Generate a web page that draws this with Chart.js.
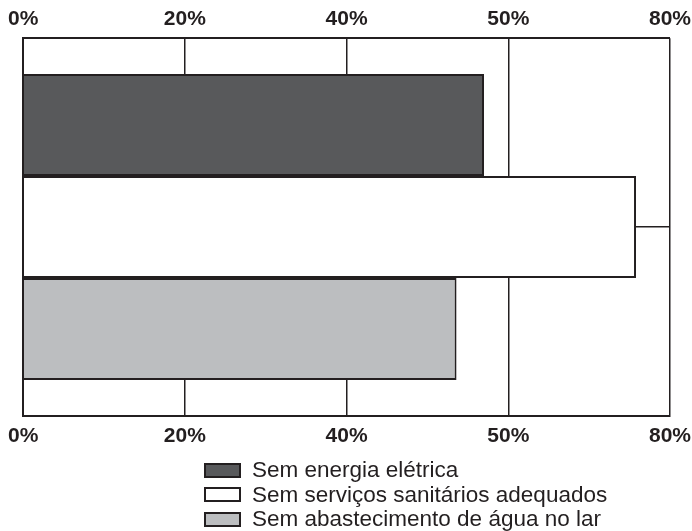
<!DOCTYPE html>
<html>
<head>
<meta charset="utf-8">
<script src="https://cdn.jsdelivr.net/npm/chart.js@4/dist/chart.umd.min.js"></script>
<style>
    body { margin: 0; background: #fff; overflow: hidden; }
    #wrap { position: relative; width: 692px; height: 531px; overflow: hidden; }
    #chart { position: absolute; left: 0; top: 0; }
    #legend { position: absolute; left: 204px; top: 458px; font-family: "Liberation Sans", Arial, sans-serif; font-size: 22.5px; color: #231f20; }
    .item { display: flex; align-items: center; height: 24.5px; }
    .box { width: 33px; height: 11px; border: 2px solid #231f20; margin-right: 11px; }
</style>
</head>
<body>
<div id="wrap">
    <canvas id="chart" width="699" height="459"></canvas>
    <div id="legend"></div>
</div>
<script>
// Série de dados
const categories = [""];
const seriesNames = ["Sem energia elétrica", "Sem serviços sanitários adequados", "Sem abastecimento de água no lar"];
const energia = [57];
const sanitarios = [75.8];
const agua = [53.6];
const xTickLabels = ["0%", "20%", "40%", "50%", "80%"];

const ink = "#231f20";
const fills = ["#58595b", "#ffffff", "#bcbec0"];
const values = [energia, sanitarios, agua];

const datasets = seriesNames.map((name, i) => ({
    label: name,
    data: values[i],
    backgroundColor: fills[i],
    borderColor: ink,
    borderWidth: 2,
    xAxisID: "x",
    categoryPercentage: 0.81,
    barPercentage: 1
}));

const tickFont = { family: "Liberation Sans", size: 21, weight: "bold" };

function xAxis(position) {
    return {
        position: position,
        min: 0,
        max: 80,
        grid: { color: ink, lineWidth: 1.5, drawTicks: false },
        border: { display: true, color: ink, width: 2 },
        ticks: {
            stepSize: 20,
            padding: position === "top" ? 6 : 8,
            color: ink,
            font: tickFont,
            maxRotation: 0,
            callback: (v, i) => xTickLabels[i]
        }
    };
}

const ctx = document.getElementById("chart").getContext("2d");
const chart = new Chart(ctx, {
    type: "bar",
    data: { labels: categories, datasets: datasets },
    options: {
        indexAxis: "y",
        responsive: false,
        animation: false,
        layout: { padding: { top: 1, left: 7, right: 0, bottom: 2 } },
        scales: {
            x: xAxis("bottom"),
            x2: Object.assign(xAxis("top"), { grid: { display: false, drawTicks: false } }),
            y: {
                grid: { color: ink, lineWidth: 1.5, offset: false, drawTicks: false },
                border: { display: true, color: ink, width: 2 },
                ticks: { display: false }
            }
        },
        plugins: {
            legend: { display: false },
            tooltip: { enabled: false }
        }
    }
});

// Legenda em lista vertical
const legend = document.getElementById("legend");
chart.data.datasets.forEach(ds => {
    const item = document.createElement("div");
    item.className = "item";
    item.innerHTML = `<span class="box" style="background:${ds.backgroundColor}"></span><span>${ds.label}</span>`;
    legend.appendChild(item);
});
</script>
</body>
</html>
